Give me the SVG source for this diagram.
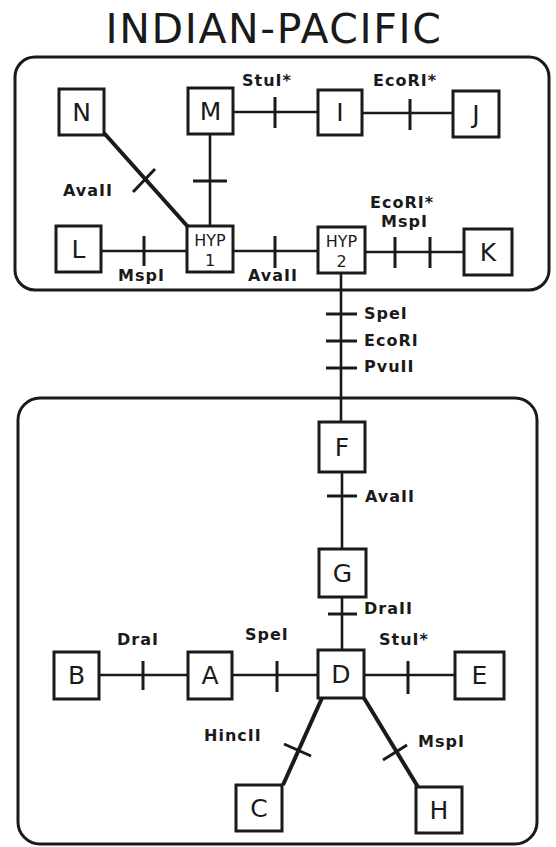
<svg xmlns="http://www.w3.org/2000/svg" width="556" height="847" viewBox="0 0 556 847">
<style>
.bg{fill:#ffffff}
.frame{fill:none;stroke:#1a1a1a;stroke-width:3}
.box{fill:#ffffff;stroke:#1a1a1a;stroke-width:3}
.ln{stroke:#1a1a1a;stroke-width:2.6;fill:none;stroke-linecap:butt}
.thick{stroke:#1a1a1a;stroke-width:4;fill:none}
.tk{stroke:#1a1a1a;stroke-width:3;fill:none}
.nl{font-family:"DejaVu Sans","Liberation Sans",sans-serif;font-size:25px;fill:#1a1a1a;text-anchor:middle}
.hl{font-family:"DejaVu Sans","Liberation Sans",sans-serif;font-size:16px;fill:#1a1a1a;text-anchor:middle}
.el{font-family:"DejaVu Sans","Liberation Sans",sans-serif;font-size:16px;font-weight:bold;fill:#1a1a1a;letter-spacing:1px}
.title{font-family:"DejaVu Sans","Liberation Sans",sans-serif;font-size:41px;fill:#1a1a1a;letter-spacing:1.6px;text-anchor:middle}
</style>
<rect class="bg" x="0" y="0" width="556" height="847"/>
<text class="title" x="274" y="43">INDIAN-PACIFIC</text>
<rect class="frame" x="15" y="57" width="534" height="233" rx="20"/>
<rect class="frame" x="18" y="398" width="519" height="446" rx="22"/>

<g id="connectors">
  <line class="ln" x1="233" y1="112" x2="318" y2="112"/>
  <line class="tk" x1="275" y1="97" x2="275" y2="128"/>
  <line class="ln" x1="362" y1="113" x2="453" y2="113"/>
  <line class="tk" x1="410" y1="99" x2="410" y2="130"/>
  <line class="ln" x1="210" y1="134" x2="210" y2="226"/>
  <line class="tk" x1="193" y1="181" x2="227" y2="181"/>
  <line class="thick" x1="104" y1="133" x2="189" y2="228"/>
  <line class="tk" x1="133" y1="192" x2="155" y2="169"/>
  <line class="ln" x1="101" y1="251" x2="187" y2="251"/>
  <line class="tk" x1="144" y1="236" x2="144" y2="266"/>
  <line class="ln" x1="233" y1="251" x2="318" y2="251"/>
  <line class="tk" x1="275" y1="236" x2="275" y2="268"/>
  <line class="ln" x1="365" y1="252" x2="464" y2="252"/>
  <line class="tk" x1="395" y1="237" x2="395" y2="268"/>
  <line class="tk" x1="430" y1="237" x2="430" y2="268"/>
  <line class="ln" x1="341" y1="273" x2="341" y2="422"/>
  <line class="tk" x1="326" y1="314" x2="357" y2="314"/>
  <line class="tk" x1="326" y1="341" x2="357" y2="341"/>
  <line class="tk" x1="326" y1="368" x2="357" y2="368"/>
  <line class="ln" x1="342" y1="472" x2="342" y2="549"/>
  <line class="tk" x1="327" y1="496" x2="357" y2="496"/>
  <line class="ln" x1="342" y1="597" x2="342" y2="650"/>
  <line class="tk" x1="328" y1="614" x2="357" y2="614"/>
  <line class="ln" x1="99" y1="675" x2="188" y2="675"/>
  <line class="tk" x1="143" y1="661" x2="143" y2="690"/>
  <line class="ln" x1="232" y1="675" x2="318" y2="675"/>
  <line class="tk" x1="277" y1="661" x2="277" y2="692"/>
  <line class="ln" x1="364" y1="675" x2="455" y2="675"/>
  <line class="tk" x1="408" y1="661" x2="408" y2="694"/>
  <line class="thick" x1="322" y1="698" x2="283" y2="785"/>
  <line class="tk" x1="284" y1="744" x2="311" y2="756"/>
  <line class="thick" x1="364" y1="698" x2="418" y2="787"/>
  <line class="tk" x1="383" y1="760" x2="407" y2="745"/>
</g>

<g id="edge-labels">
  <text class="el" x="242" y="86">StuI*</text>
  <text class="el" x="373" y="86">EcoRI*</text>
  <text class="el" x="63" y="196">AvaII</text>
  <text class="el" x="118" y="281">MspI</text>
  <text class="el" x="248" y="281">AvaII</text>
  <text class="el" x="370" y="208">EcoRI*</text>
  <text class="el" x="381" y="227">MspI</text>
  <text class="el" x="364" y="319">SpeI</text>
  <text class="el" x="364" y="346">EcoRI</text>
  <text class="el" x="364" y="372">PvuII</text>
  <text class="el" x="365" y="502">AvaII</text>
  <text class="el" x="364" y="614">DraII</text>
  <text class="el" x="117" y="645">DraI</text>
  <text class="el" x="245" y="640">SpeI</text>
  <text class="el" x="379" y="645">StuI*</text>
  <text class="el" x="204" y="741">HincII</text>
  <text class="el" x="418" y="747">MspI</text>
</g>

<g id="node-N"><rect class="box" x="59" y="89" width="45" height="46"/><text class="nl" x="81.5" y="121">N</text></g>
<g id="node-M"><rect class="box" x="188" y="88" width="45" height="46"/><text class="nl" x="210.5" y="120">M</text></g>
<g id="node-I"><rect class="box" x="318" y="90" width="44" height="45"/><text class="nl" x="340" y="121">I</text></g>
<g id="node-J"><rect class="box" x="453" y="91" width="46" height="46"/><text class="nl" x="476" y="123">J</text></g>
<g id="node-L"><rect class="box" x="56" y="226" width="45" height="46"/><text class="nl" x="78.5" y="258">L</text></g>
<g id="node-HYP1"><rect class="box" x="187" y="226" width="46" height="46"/><text class="hl" x="210" y="246">HYP</text><text class="hl" x="210" y="266">1</text></g>
<g id="node-HYP2"><rect class="box" x="318" y="227" width="47" height="46"/><text class="hl" x="341.5" y="247">HYP</text><text class="hl" x="341.5" y="267">2</text></g>
<g id="node-K"><rect class="box" x="464" y="229" width="48" height="46"/><text class="nl" x="488" y="261">K</text></g>

<g id="node-F"><rect class="box" x="319" y="422" width="46" height="50"/><text class="nl" x="342" y="456">F</text></g>
<g id="node-G"><rect class="box" x="319" y="549" width="47" height="48"/><text class="nl" x="342.5" y="582">G</text></g>
<g id="node-D"><rect class="box" x="318" y="650" width="46" height="48"/><text class="nl" x="341" y="683">D</text></g>
<g id="node-B"><rect class="box" x="54" y="652" width="45" height="47"/><text class="nl" x="76.5" y="684">B</text></g>
<g id="node-A"><rect class="box" x="188" y="652" width="44" height="47"/><text class="nl" x="210" y="684">A</text></g>
<g id="node-E"><rect class="box" x="455" y="652" width="49" height="47"/><text class="nl" x="479.5" y="684">E</text></g>
<g id="node-C"><rect class="box" x="236" y="785" width="46" height="46"/><text class="nl" x="259" y="817">C</text></g>
<g id="node-H"><rect class="box" x="416" y="787" width="46" height="46"/><text class="nl" x="439" y="819">H</text></g>
</svg>
